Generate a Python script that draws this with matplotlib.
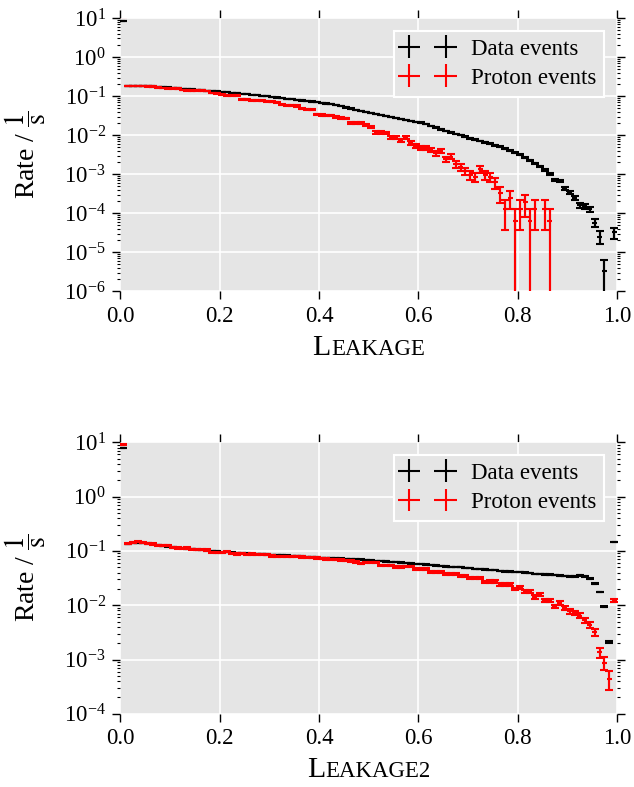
import numpy as np
import matplotlib.pyplot as plt
from matplotlib.ticker import LogLocator, NullFormatter, FormatStrFormatter
from matplotlib.offsetbox import TextArea, HPacker, AnchoredOffsetbox

plt.rcParams.update({
    'font.family': ['Liberation Serif', 'DejaVu Serif'],
    'mathtext.fontset': 'stix',
    'font.size': 16,
    'axes.facecolor': '#e5e5e5',
    'legend.numpoints': 2,
})

# 100 bins of width 0.01 on [0, 1]
edges = np.linspace(0, 1, 101)
centers = 0.5 * (edges[1:] + edges[:-1])
half_width = 0.5 * (edges[1] - edges[0])

# rate contributed by a single event (for poisson errors)
data_event_rate = 3.2e-6
proton_event_rate = 6.3e-5

# Leakage
data_leakage = [
    8.5, 0.180, 0.181, 0.181, 0.180, 0.179, 0.177, 0.174, 0.170, 0.166,
    0.162, 0.158, 0.155, 0.151, 0.148, 0.145, 0.141, 0.138, 0.135, 0.132,
    0.129, 0.125, 0.122, 0.118, 0.115, 0.112, 0.108, 0.105, 0.102, 0.0989,
    0.0955, 0.0923, 0.0891, 0.0861, 0.0832, 0.0804, 0.0776, 0.0750, 0.0724, 0.0700,
    0.0676, 0.0646, 0.0617, 0.0582, 0.0550, 0.0513, 0.0479, 0.0447, 0.0417, 0.0394,
    0.0372, 0.0351, 0.0331, 0.0313, 0.0295, 0.0279, 0.0263, 0.0248, 0.0234, 0.0221,
    0.0209, 0.0191, 0.0174, 0.0157, 0.0141, 0.0129, 0.0117, 0.0108, 0.0100, 0.00912,
    0.00832, 0.00767, 0.00708, 0.00653, 0.00603, 0.00550, 0.00501, 0.00447, 0.00398, 0.00355,
    0.00316, 0.00266, 0.00224, 0.00188, 0.00158, 0.00126, 0.00100, 0.000708, 0.000661, 0.000427,
    0.000339, 0.000240, 0.000162, 0.000151, 0.000126, 5.7e-5, 2.5e-5, 3.2e-6, 0.0, 3.2e-5,
]
proton_leakage = [
    11.0, 0.180, 0.181, 0.180, 0.182, 0.179, 0.177, 0.165, 0.161, 0.158,
    0.160, 0.156, 0.143, 0.141, 0.139, 0.140, 0.138, 0.136, 0.120, 0.117,
    0.108, 0.106, 0.105, 0.104, 0.082, 0.080, 0.079, 0.078, 0.077, 0.073,
    0.071, 0.069, 0.061, 0.059, 0.058, 0.056, 0.048, 0.046, 0.045, 0.034,
    0.033, 0.032, 0.032, 0.029, 0.028, 0.027, 0.021, 0.0205, 0.0200, 0.0180,
    0.0160, 0.0118, 0.0118, 0.0115, 0.0085, 0.0085, 0.0074, 0.0085, 0.0063, 0.0053,
    0.0047, 0.0046, 0.0042, 0.0034, 0.0039, 0.0024, 0.0028, 0.0018, 0.00155, 0.0012,
    0.00093, 0.00085, 0.00135, 0.00093, 0.00085, 0.00062, 0.00032, 0.000126, 0.00025, 0.000063,
    0.000126, 0.00019, 0.000063, 0.000126, 0.0, 0.000126, 0.000063, 0.0, 0.0, 0.0,
    0.0, 0.0, 0.0, 0.0, 0.0, 0.0, 0.0, 0.0, 0.0, 0.0,
]

# Leakage2
data_leakage2 = [
    7.7, 0.136, 0.138, 0.139, 0.139, 0.137, 0.132, 0.128, 0.125, 0.121,
    0.117, 0.114, 0.112, 0.110, 0.108, 0.106, 0.104, 0.102, 0.100, 0.098,
    0.096, 0.095, 0.093, 0.092, 0.091, 0.090, 0.089, 0.088, 0.087, 0.086,
    0.085, 0.084, 0.083, 0.082, 0.081, 0.080, 0.079, 0.078, 0.077, 0.076,
    0.075, 0.074, 0.073, 0.0725, 0.072, 0.071, 0.070, 0.0695, 0.069, 0.068,
    0.067, 0.066, 0.065, 0.064, 0.063, 0.062, 0.061, 0.060, 0.059, 0.058,
    0.057, 0.056, 0.055, 0.054, 0.053, 0.052, 0.051, 0.0505, 0.050, 0.049,
    0.048, 0.047, 0.046, 0.0455, 0.045, 0.044, 0.043, 0.042, 0.0415, 0.041,
    0.0405, 0.040, 0.039, 0.038, 0.0375, 0.037, 0.0365, 0.036, 0.035, 0.0345,
    0.034, 0.034, 0.0355, 0.034, 0.031, 0.025, 0.0174, 0.0093, 0.0021, 0.145,
]
proton_leakage2 = [
    9.1, 0.136, 0.145, 0.146, 0.145, 0.136, 0.134, 0.127, 0.128, 0.126,
    0.114, 0.113, 0.112, 0.113, 0.107, 0.106, 0.105, 0.104, 0.094, 0.093,
    0.093, 0.097, 0.091, 0.088, 0.089, 0.087, 0.088, 0.086, 0.087, 0.085,
    0.081, 0.080, 0.079, 0.080, 0.078, 0.079, 0.077, 0.076, 0.075, 0.074,
    0.072, 0.071, 0.070, 0.069, 0.068, 0.066, 0.065, 0.063, 0.0583, 0.0617,
    0.0617, 0.0617, 0.0543, 0.0543, 0.0543, 0.0499, 0.0499, 0.0520, 0.0520, 0.0466,
    0.0466, 0.0466, 0.0410, 0.0410, 0.0410, 0.0377, 0.0377, 0.0377, 0.0340, 0.0340,
    0.0318, 0.0318, 0.0318, 0.0264, 0.0275, 0.0275, 0.0240, 0.0240, 0.0240, 0.0200,
    0.0214, 0.0180, 0.0180, 0.0142, 0.0157, 0.0123, 0.0123, 0.0095, 0.0110, 0.0089,
    0.0077, 0.0072, 0.0064, 0.0053, 0.0044, 0.0032, 0.00135, 0.00087, 0.00044, 0.0122,
]


def plot_rates(ax, rates, unit, color, label):
    rates = np.asarray(rates)
    err = np.sqrt(rates * unit)
    # single-event bins: let the lower bar run down to zero
    lower = np.minimum(err, rates * (1 - 1e-9))
    m = rates > 0
    x, y, yerr = centers[m], rates[m], [lower[m], err[m]]
    # bin width + error as a plain cross (this one goes in the legend)
    ax.errorbar(x, y, xerr=half_width, yerr=yerr, fmt='none', ecolor=color,
                elinewidth=1.5, capsize=0, label=label)
    # caps only on the vertical bars
    ax.errorbar(x, y, yerr=yerr, fmt='none', ecolor=color,
                elinewidth=1.5, capsize=3, capthick=1.5)


def smallcaps_xlabel(ax, first, rest, y):
    box = HPacker(children=[TextArea(first, textprops=dict(size=21.5)),
                            TextArea(rest, textprops=dict(size=16.5))],
                  align='baseline', pad=0, sep=0)
    ab = AnchoredOffsetbox(loc='upper center', child=box, pad=0, borderpad=0,
                           frameon=False, bbox_to_anchor=(0.5, y),
                           bbox_transform=ax.transAxes)
    ax.add_artist(ab)


def style_axes(ax, ymin):
    ax.set_yscale('log')
    ax.set_xlim(0, 1)
    ax.set_ylim(ymin, 10)
    ax.set_xticks(np.arange(0, 1.01, 0.2))
    ax.xaxis.set_major_formatter(FormatStrFormatter('%.1f'))
    ax.yaxis.set_major_locator(LogLocator(base=10, numticks=20))
    ax.yaxis.set_minor_locator(LogLocator(base=10, subs=np.arange(2, 10), numticks=20))
    ax.yaxis.set_minor_formatter(NullFormatter())
    for s in ax.spines.values():
        s.set_visible(False)
    ax.tick_params(which='both', direction='out', top=True, right=True,
                   labeltop=False, labelright=False, labelsize=16.5)
    ax.tick_params(which='major', length=5.5, width=1, pad=5)
    ax.tick_params(which='minor', length=2.5, width=0.8)
    ax.grid(True, which='major', color='white', linewidth=1.2)
    ax.set_axisbelow(True)
    ax.set_ylabel(r'Rate / $\dfrac{1}{\mathrm{s}}$', fontsize=20)
    ax.yaxis.set_label_coords(-0.145, 0.5)
    leg = ax.legend(loc='upper right', fontsize=16.5, fancybox=False,
                    facecolor='#e5e5e5', edgecolor='white', framealpha=1,
                    borderaxespad=0.55, handlelength=2.2, borderpad=0.35,
                    labelspacing=0.35)
    leg.get_frame().set_linewidth(1.5)


fig = plt.figure(figsize=(6.34, 7.87), dpi=100)
ax1 = fig.add_axes([0.190, 0.630, 0.783, 0.347])
ax2 = fig.add_axes([0.190, 0.093, 0.783, 0.345])

plot_rates(ax1, data_leakage, data_event_rate, 'black', 'Data events')
plot_rates(ax1, proton_leakage, proton_event_rate, 'red', 'Proton events')
style_axes(ax1, 1e-6)
smallcaps_xlabel(ax1, 'L', 'EAKAGE', -0.16)

plot_rates(ax2, data_leakage2, data_event_rate, 'black', 'Data events')
plot_rates(ax2, proton_leakage2, proton_event_rate, 'red', 'Proton events')
style_axes(ax2, 1e-4)
smallcaps_xlabel(ax2, 'L', 'EAKAGE2', -0.158)

fig.savefig('out.png', dpi=100)
